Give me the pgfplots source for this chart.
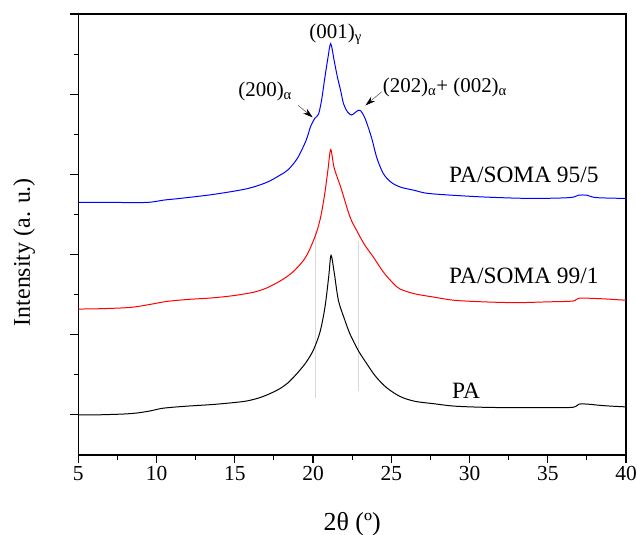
\documentclass[border=0pt]{standalone}
\usepackage{fontspec}
\setmainfont{Liberation Serif}
\usepackage{pgfplots}
\pgfplotsset{compat=1.18}
\usetikzlibrary{arrows.meta}
\begin{document}
\begin{tikzpicture}
\begin{axis}[
  width=547.7bp, height=441bp, scale only axis,
  xmin=5, xmax=40, ymin=-0.5, ymax=5,
  xtick={5,10,...,40}, minor x tick num=1,
  ytick={0,1,...,5}, minor y tick num=1, yticklabels={},
  tick align=outside, xtick pos=bottom, ytick pos=left,
  major tick length=8bp, minor tick length=4.5bp,
  axis line style={line width=1.2pt},
  every tick/.style={line width=1.1pt, black},
  /pgf/number format/assume math mode=true,
  ticklabel style={font=\fontsize{21.5}{24}\selectfont},
  xlabel={2θ (º)}, ylabel={Intensity (a. u.)},
  xlabel style={font=\fontsize{26}{30}\selectfont, at={(axis description cs:0.5,-0.156)}, anchor=center},
  ylabel style={font=\fontsize{24}{28}\selectfont, at={(axis description cs:-0.099,0.46)}, anchor=center},
  clip=false,
]
\coordinate (ll) at (rel axis cs:0,0);
\coordinate (ur) at (rel axis cs:1,1);
\addplot[gray!30, line width=0.7pt] coordinates {(20.17,0.21) (20.17,2.30)};
\addplot[gray!30, line width=0.7pt] coordinates {(22.9,0.30) (22.9,2.17)};
% PA
\addplot[black, line width=1.0pt, smooth, tension=0.5] coordinates {
(5,0.00) (6,0.00) (7,0.005) (8,0.012) (8.8,0.025) (9.6,0.05) (10.3,0.08) (11,0.095)
(12,0.11) (13.6,0.13) (15,0.155) (15.8,0.175) (16.6,0.215) (17.3,0.27) (17.9,0.33)
(18.4,0.40) (18.9,0.50) (19.5,0.64) (20.0,0.80) (20.44,1.03) (20.76,1.34) (21.0,1.72)
(21.15,1.99) (21.35,1.78) (21.62,1.43) (22.0,1.20) (22.36,1.01) (22.9,0.80) (23.43,0.64)
(24.0,0.48) (24.7,0.34) (25.56,0.23) (26.5,0.17) (27.7,0.14) (29,0.11) (30.9,0.095)
(33,0.09) (35,0.09) (36.6,0.095) (37.0,0.135) (37.5,0.135) (38.3,0.12) (39,0.11) (40,0.10)};
% PA/SOMA 99/1
\addplot[red, line width=1.0pt, smooth, tension=0.5] coordinates {
(5,1.32) (6.5,1.325) (8.3,1.34) (9.5,1.375) (10.65,1.415) (12,1.44) (13.6,1.46) (15,1.49)
(16.2,1.53) (17.0,1.58) (17.9,1.67) (18.7,1.78) (19.4,1.93) (19.8,2.07) (20.23,2.28)
(20.5,2.48) (20.75,2.76) (20.95,3.05) (21.13,3.31) (21.35,3.08) (21.77,2.84) (22.36,2.47)
(22.79,2.30) (23.3,2.12) (23.85,1.97) (24.5,1.78) (25.13,1.64) (25.56,1.57) (26.5,1.51)
(27.7,1.47) (29,1.43) (30.9,1.41) (33,1.40) (35,1.41) (36.6,1.42) (37.0,1.455) (38.3,1.45) (40,1.43)};
% PA/SOMA 95/5
\addplot[blue, line width=1.0pt, smooth, tension=0.5] coordinates {
(5,2.65) (7,2.65) (9.37,2.65) (10.5,2.68) (11.5,2.70) (13.63,2.75) (15.76,2.82) (17.04,2.90)
(17.89,2.99) (18.42,3.06) (19.0,3.2) (19.55,3.42) (19.85,3.6) (20.12,3.70) (20.35,3.75)
(20.55,3.93) (20.75,4.2) (20.95,4.45) (21.13,4.63) (21.35,4.42) (21.55,4.22) (21.76,4.05)
(21.95,3.88) (22.2,3.78) (22.47,3.74) (22.75,3.78) (23.0,3.80) (23.32,3.70) (23.75,3.45)
(24.07,3.21) (24.49,3.01) (25.0,2.9) (25.6,2.84) (26.5,2.80) (27.47,2.76) (30.67,2.72) (33.86,2.70) (36.4,2.71)
(36.95,2.74) (37.5,2.74) (38.1,2.71) (40,2.70)};
% arrows
\draw[line width=0.5pt, gray!60!black, -{Stealth[length=10bp,width=6bp,color=black]}] (axis cs:19.05,3.86) -- (axis cs:19.98,3.71);
\draw[line width=0.5pt, gray!60!black, -{Stealth[length=10bp,width=6bp,color=black]}] (axis cs:24.39,4.03) -- (axis cs:23.35,3.86);
% peak labels
\node[anchor=base west, inner sep=0, font=\fontsize{21}{24}\selectfont] at (axis cs:19.76,4.69) {(001)\textsubscript{γ}};
\node[anchor=base west, inner sep=0, font=\fontsize{21}{24}\selectfont] at (axis cs:15.22,3.97) {(200)\textsubscript{α}};
\node[anchor=base west, inner sep=0, font=\fontsize{21}{24}\selectfont] at (axis cs:24.45,4.02) {(202)\textsubscript{α}+ (002)\textsubscript{α}};
% curve labels
\node[anchor=base west, inner sep=0, font=\fontsize{23.5}{27}\selectfont] at (axis cs:28.69,2.90) {PA/SOMA 95/5};
\node[anchor=base west, inner sep=0, font=\fontsize{23.5}{27}\selectfont] at (axis cs:28.69,1.635) {PA/SOMA 99/1};
\node[anchor=base west, inner sep=0, font=\fontsize{23.5}{27}\selectfont] at (axis cs:28.88,0.20) {PA};
\end{axis}
\pgfresetboundingbox
\path ([shift={(-78.3bp,-80bp)}]ll) rectangle ([shift={(11bp,14bp)}]ur);
\end{tikzpicture}
\end{document}
